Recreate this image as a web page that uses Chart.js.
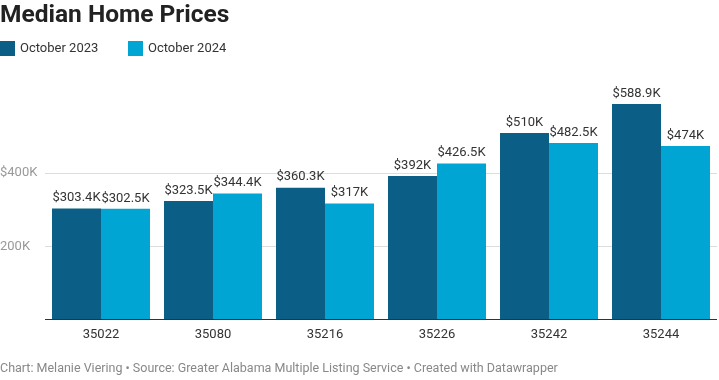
<!DOCTYPE html>
<html>
<head>
<meta charset="utf-8">
<script src="https://cdn.jsdelivr.net/npm/chart.js@4"></script>
<style>
  html, body { margin: 0; padding: 0; background: #fff; }
  #wrap { width: 719px; height: 380px; }
</style>
</head>
<body>
<div id="wrap"><canvas id="myChart"></canvas></div>
<script>
// values in thousands of dollars
const zipCodes = ['35022', '35080', '35216', '35226', '35242', '35244'];
const oct2023 = [303.4, 323.5, 360.3, 392, 510, 588.9];
const oct2024 = [302.5, 344.4, 317, 426.5, 482.5, 474];
const tickValues = [0, 200, 400];
const tickLabels = ['', '200K', '$400K'];

const colors = ['#0b5f86', '#00a5d4'];

// draws "$xxxK" above each bar
const barLabels = {
  id: 'barLabels',
  afterDatasetsDraw(chart) {
    const ctx = chart.ctx;
    ctx.save();
    ctx.font = "13px Roboto";
    ctx.fillStyle = '#333';
    ctx.textAlign = 'center';
    ctx.textBaseline = 'bottom';
    chart.data.datasets.forEach((ds, i) => {
      chart.getDatasetMeta(i).data.forEach((bar, j) => {
        ctx.fillText('$' + ds.data[j] + 'K', bar.x, bar.y - 4);
      });
    });
    ctx.restore();
  }
};

// flush-left legend, drawn under the title
const leftLegend = {
  id: 'leftLegend',
  afterDraw(chart) {
    const ctx = chart.ctx;
    const xs = [0, 128];
    ctx.save();
    ctx.font = "13px Roboto";
    ctx.textBaseline = 'middle';
    chart.data.datasets.forEach((ds, i) => {
      ctx.fillStyle = ds.backgroundColor;
      ctx.fillRect(xs[i], 41, 15, 15);
      ctx.fillStyle = '#333';
      ctx.fillText(ds.label, xs[i] + 20, 48.5);
    });
    ctx.restore();
  }
};

new Chart(document.getElementById('myChart').getContext('2d'), {
  type: 'bar',
  data: {
    labels: zipCodes,
    datasets: [
      { label: 'October 2023', data: oct2023, backgroundColor: colors[0] },
      { label: 'October 2024', data: oct2024, backgroundColor: colors[1] }
    ]
  },
  plugins: [barLabels, leftLegend],
  options: {
    responsive: true,
    maintainAspectRatio: false,
    animation: false,
    datasets: { bar: { categoryPercentage: 0.875, barPercentage: 1.0 } },
    layout: { padding: { left: 0, right: 2, top: 0, bottom: 4 } },
    plugins: {
      title: {
        display: true,
        text: 'Median Home Prices',
        align: 'start',
        color: '#222',
        font: { family: 'Roboto', size: 24.5, weight: 'bold' },
        padding: { top: 1, bottom: 33 }
      },
      subtitle: {
        display: true,
        position: 'bottom',
        text: 'Chart: Melanie Viering \u2022 Source: Greater Alabama Multiple Listing Service \u2022 Created with Datawrapper',
        align: 'start',
        color: '#888',
        font: { family: 'Roboto', size: 12.5 },
        padding: { top: 18, bottom: 0 }
      },
      legend: { display: false },
      tooltip: { enabled: false }
    },
    scales: {
      x: {
        grid: { display: false },
        border: { display: false },
        ticks: { color: '#333', padding: 0, font: { family: 'Roboto', size: 13 } }
      },
      y: {
        min: 0,
        max: 700,
        border: { display: false },
        afterBuildTicks(scale) {
          scale.ticks = tickValues.map(v => ({ value: v }));
        },
        afterFit(scale) { scale.width = 45; },
        grid: {
          drawTicks: false,
          color: c => c.tick.value === 0 ? '#333' : '#ddd'
        },
        ticks: {
          crossAlign: 'far',
          color: '#999',
          padding: 8,
          font: { family: 'Roboto', size: 13 },
          callback: v => tickLabels[tickValues.indexOf(v)]
        }
      }
    }
  }
});
</script>
</body>
</html>
